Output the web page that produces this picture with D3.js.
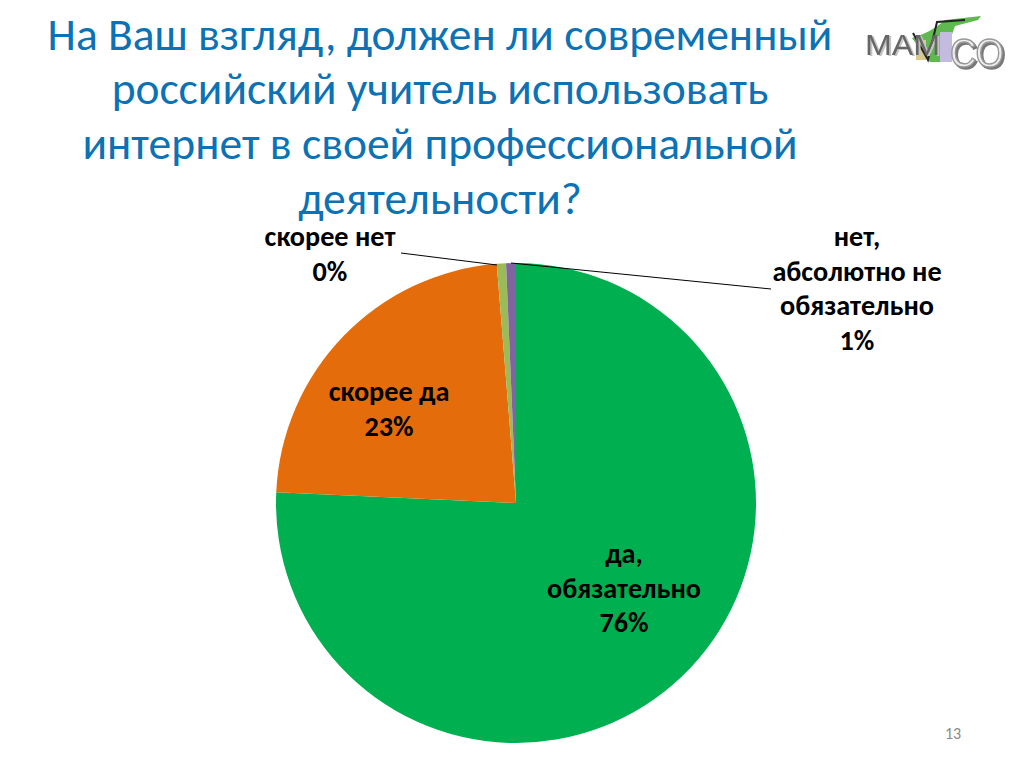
<!DOCTYPE html>
<html><head><meta charset="utf-8">
<style>html,body{margin:0;padding:0;background:#fff}svg{display:block}</style>
<script src="https://cdn.jsdelivr.net/npm/d3@7"></script></head>
<body><svg id="c" width="1024" height="768"></svg>
<script>
const categories=["да, обязательно","скорее да","скорее нет","нет, абсолютно не обязательно"];
const values=[75.7,23.0,0.62,0.66];
const colors=["#00B050","#E46C0A","#9BBB59","#8064A2"];
const titleLines=["На Ваш взгляд, должен ли современный","российский учитель использовать","интернет в своей профессиональной","деятельности?"];
const labelLines=[["да,","обязательно","76%"],["скорее да","23%"],["скорее нет","0%"],["нет,","абсолютно не","обязательно","1%"]];
const pageNumber="13";
const font="Carlito, Calibri, 'Open Sans', sans-serif";
const svg=d3.select("#c");
const cx=516,cy=503,R=240;
const pie=d3.pie().sort(null).value(d=>d)(values);
const arc=d3.arc().innerRadius(0).outerRadius(R);
const g=svg.append("g").attr("transform",`translate(${cx},${cy})`);
g.selectAll("path").data(pie).join("path").attr("d",arc).attr("fill",(d,i)=>colors[i]);
[[[401,253],[497,265]],[[771,289],[511,263]]].forEach(p=>{
 svg.append("path").attr("d",d3.line()(p)).attr("stroke","#000").attr("stroke-width",1).attr("fill","none");
});
svg.append("g").selectAll("text").data(titleLines).join("text")
 .attr("x",440).attr("y",(d,i)=>49.5+i*54.7).attr("text-anchor","middle")
 .attr("font-family",font).attr("font-size",45.5).attr("fill","#0B72B5").text(d=>d);
const labelPos=[[624,563],[389,401],[330,246],[857,246]];
labelLines.forEach((ls,i)=>{
 svg.append("g").selectAll("text").data(ls).join("text")
  .attr("x",labelPos[i][0]).attr("y",(d,j)=>labelPos[i][1]+j*34.5).attr("text-anchor","middle")
  .attr("font-family",font).attr("font-size",28.2).attr("font-weight",700).attr("fill","#000").text(d=>d);
});
svg.append("text").attr("x",953).attr("y",739).attr("text-anchor","middle").attr("font-family",font).attr("font-size",16).attr("fill","#8a8a8a").text(pageNumber);
// logo
const logo=svg.append("g");
logo.append("path").attr("d","M912 38 Q932 32 945 20 L981 16 L978 20 L955 26 L950 40 L945 62 L930 62Z").attr("fill","#5fb94f");
logo.append("rect").attr("x",940).attr("y",32).attr("width",12).attr("height",30).attr("fill","#c4bce0");
logo.append("rect").attr("x",916).attr("y",40).attr("width",10).attr("height",20).attr("fill","#d9c98a");
logo.append("path").attr("d","M913 33 L928 60 L937 22 L965 20").attr("fill","none").attr("stroke","#222").attr("stroke-width",2);
logo.append("text").attr("x",865).attr("y",55).attr("font-family","'Liberation Sans'").attr("font-size",30).attr("fill","#666")
 .attr("textLength",75).attr("lengthAdjust","spacingAndGlyphs").style("filter","drop-shadow(2px 1px 0 #c4c4c4)").text("МАМ");
logo.append("text").attr("x",950).attr("y",67).attr("font-family","'Liberation Sans'").attr("font-size",40).attr("fill","#eee")
 .attr("stroke","#999").attr("stroke-width",1.5).attr("textLength",54).attr("lengthAdjust","spacingAndGlyphs").style("filter","drop-shadow(2px 2px 0 #777)").text("СО");
</script></body></html>
